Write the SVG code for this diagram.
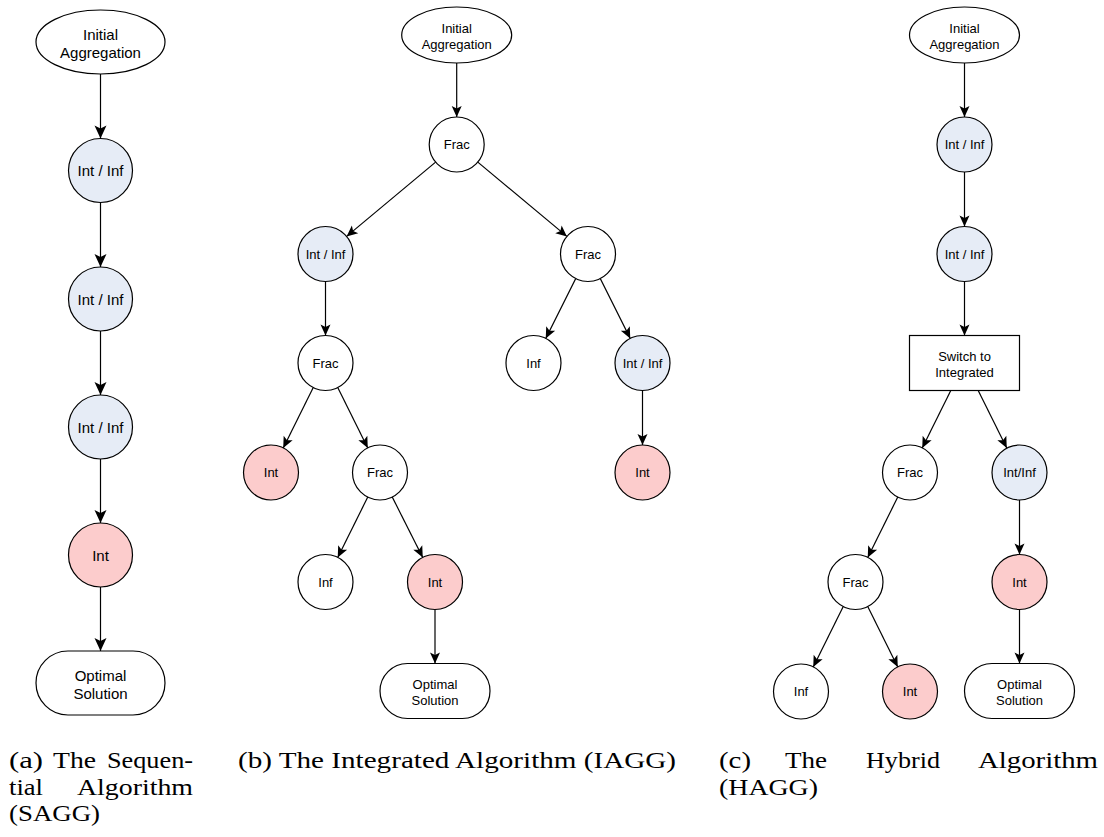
<svg xmlns="http://www.w3.org/2000/svg" width="1104" height="837" viewBox="0 0 1104 837">
<defs>
<marker id="arA" markerUnits="userSpaceOnUse" markerWidth="14" markerHeight="12" refX="13" refY="6" orient="auto" overflow="visible">
<path d="M0,0 L13,6 L0,12 L3,6 Z" fill="#000"/>
</marker>
<marker id="arB" markerUnits="userSpaceOnUse" markerWidth="12" markerHeight="10" refX="11" refY="5" orient="auto" overflow="visible">
<path d="M0,0 L11,5 L0,10 L2.5,5 Z" fill="#000"/>
</marker>
</defs>
<style>
.n{stroke:#000;stroke-width:1.2;fill:#fff}
.blue{fill:#e6ecf6}
.pink{fill:#fccccc}
.e{stroke:#000;stroke-width:1.2;fill:none}
.ea{marker-end:url(#arA)}
.eb{marker-end:url(#arB)}
.ta{font-family:"Liberation Sans",Arial,sans-serif;font-size:15px;text-anchor:middle;fill:#000}
.tb{font-family:"Liberation Sans",Arial,sans-serif;font-size:13px;text-anchor:middle;fill:#000}
.cap{font-family:"Liberation Serif","Times New Roman",serif;font-size:24px;fill:#000}
</style>
<rect width="1104" height="837" fill="#fff"/>

<g id="connectors">
<!-- panel a -->
<line class="e ea" x1="100.5" y1="74" x2="100.5" y2="138.5"/>
<line class="e ea" x1="100.5" y1="202.5" x2="100.5" y2="267"/>
<line class="e ea" x1="100.5" y1="331" x2="100.5" y2="395"/>
<line class="e ea" x1="100.5" y1="459" x2="100.5" y2="523"/>
<line class="e ea" x1="100.5" y1="587" x2="100.5" y2="651"/>
<!-- panel b -->
<line class="e eb" x1="456.7" y1="63" x2="456.7" y2="117"/>
<line class="e eb" x1="435.6" y1="162.1" x2="346.6" y2="236.4"/>
<line class="e eb" x1="477.8" y1="162.1" x2="566.9" y2="236.4"/>
<line class="e eb" x1="325.5" y1="281.5" x2="325.5" y2="335.5"/>
<line class="e eb" x1="575.75" y1="278.6" x2="545.75" y2="338.4"/>
<line class="e eb" x1="600.25" y1="278.6" x2="630.25" y2="338.4"/>
<line class="e eb" x1="313.25" y1="387.6" x2="283.25" y2="447.9"/>
<line class="e eb" x1="337.75" y1="387.6" x2="367.75" y2="447.9"/>
<line class="e eb" x1="642.5" y1="390.5" x2="642.5" y2="445"/>
<line class="e eb" x1="367.75" y1="497.1" x2="337.75" y2="557.4"/>
<line class="e eb" x1="392.25" y1="497.1" x2="422.75" y2="557.4"/>
<line class="e eb" x1="435" y1="609.5" x2="435" y2="663.5"/>
<!-- panel c -->
<line class="e eb" x1="964.5" y1="63" x2="964.5" y2="117"/>
<line class="e eb" x1="964.5" y1="172" x2="964.5" y2="226.5"/>
<line class="e eb" x1="964.5" y1="281.5" x2="964.5" y2="335.5"/>
<line class="e eb" x1="950.8" y1="390.5" x2="922.25" y2="447.9"/>
<line class="e eb" x1="978.2" y1="390.5" x2="1006.75" y2="447.9"/>
<line class="e eb" x1="897.75" y1="497.1" x2="867.75" y2="557.4"/>
<line class="e eb" x1="1019.5" y1="500" x2="1019.5" y2="554.5"/>
<line class="e eb" x1="843.25" y1="606.6" x2="813.25" y2="666.9"/>
<line class="e eb" x1="867.75" y1="606.6" x2="897.75" y2="666.9"/>
<line class="e eb" x1="1019.5" y1="609.5" x2="1019.5" y2="663.5"/>
</g>

<!-- panel a nodes -->
<g id="a-init"><ellipse class="n" cx="100.5" cy="42" rx="64.5" ry="32"/><text class="ta" x="100.5" y="40">Initial</text><text class="ta" x="100.5" y="58">Aggregation</text></g>
<g id="a-ii1"><circle class="n blue" cx="100.5" cy="170.5" r="32"/><text class="ta" x="100.5" y="176">Int / Inf</text></g>
<g id="a-ii2"><circle class="n blue" cx="100.5" cy="299" r="32"/><text class="ta" x="100.5" y="304.5">Int / Inf</text></g>
<g id="a-ii3"><circle class="n blue" cx="100.5" cy="427" r="32"/><text class="ta" x="100.5" y="432.5">Int / Inf</text></g>
<g id="a-int"><circle class="n pink" cx="100.5" cy="555" r="32"/><text class="ta" x="100.5" y="560.5">Int</text></g>
<g id="a-opt"><rect class="n" x="36" y="651" width="129" height="64" rx="32"/><text class="ta" x="100.5" y="681">Optimal</text><text class="ta" x="100.5" y="699">Solution</text></g>

<!-- panel b nodes -->
<g id="b-init"><ellipse class="n" cx="456.7" cy="35" rx="55" ry="28"/><text class="tb" x="456.7" y="32.7">Initial</text><text class="tb" x="456.7" y="48.7">Aggregation</text></g>
<g id="b-frac1"><circle class="n" cx="456.7" cy="144.5" r="27.5"/><text class="tb" x="456.7" y="149.2">Frac</text></g>
<g id="b-ii1"><circle class="n blue" cx="325.5" cy="254" r="27.5"/><text class="tb" x="325.5" y="258.7">Int / Inf</text></g>
<g id="b-frac2"><circle class="n" cx="588" cy="254" r="27.5"/><text class="tb" x="588" y="258.7">Frac</text></g>
<g id="b-frac3"><circle class="n" cx="325.5" cy="363" r="27.5"/><text class="tb" x="325.5" y="367.7">Frac</text></g>
<g id="b-inf1"><circle class="n" cx="533.5" cy="363" r="27.5"/><text class="tb" x="533.5" y="367.7">Inf</text></g>
<g id="b-ii2"><circle class="n blue" cx="642.5" cy="363" r="27.5"/><text class="tb" x="642.5" y="367.7">Int / Inf</text></g>
<g id="b-int1"><circle class="n pink" cx="271" cy="472.5" r="27.5"/><text class="tb" x="271" y="477.2">Int</text></g>
<g id="b-frac4"><circle class="n" cx="380" cy="472.5" r="27.5"/><text class="tb" x="380" y="477.2">Frac</text></g>
<g id="b-int2"><circle class="n pink" cx="642.5" cy="472.5" r="27.5"/><text class="tb" x="642.5" y="477.2">Int</text></g>
<g id="b-inf2"><circle class="n" cx="325.5" cy="582" r="27.5"/><text class="tb" x="325.5" y="586.7">Inf</text></g>
<g id="b-int3"><circle class="n pink" cx="435" cy="582" r="27.5"/><text class="tb" x="435" y="586.7">Int</text></g>
<g id="b-opt"><rect class="n" x="380" y="663.5" width="110" height="55" rx="27.5"/><text class="tb" x="435" y="689">Optimal</text><text class="tb" x="435" y="705">Solution</text></g>

<!-- panel c nodes -->
<g id="c-init"><ellipse class="n" cx="964.5" cy="35" rx="55" ry="28"/><text class="tb" x="964.5" y="32.7">Initial</text><text class="tb" x="964.5" y="48.7">Aggregation</text></g>
<g id="c-ii1"><circle class="n blue" cx="964.5" cy="144.5" r="27.5"/><text class="tb" x="964.5" y="149.2">Int / Inf</text></g>
<g id="c-ii2"><circle class="n blue" cx="964.5" cy="254" r="27.5"/><text class="tb" x="964.5" y="258.7">Int / Inf</text></g>
<g id="c-switch"><rect class="n" x="909.5" y="335.5" width="110" height="55"/><text class="tb" x="964.5" y="361">Switch to</text><text class="tb" x="964.5" y="377">Integrated</text></g>
<g id="c-frac1"><circle class="n" cx="910" cy="472.5" r="27.5"/><text class="tb" x="910" y="477.2">Frac</text></g>
<g id="c-ii3"><circle class="n blue" cx="1019.5" cy="472.5" r="27.5"/><text class="tb" x="1019.5" y="477.2">Int/Inf</text></g>
<g id="c-frac2"><circle class="n" cx="855.5" cy="582" r="27.5"/><text class="tb" x="855.5" y="586.7">Frac</text></g>
<g id="c-int1"><circle class="n pink" cx="1019.5" cy="582" r="27.5"/><text class="tb" x="1019.5" y="586.7">Int</text></g>
<g id="c-inf"><circle class="n" cx="801" cy="691.5" r="27.5"/><text class="tb" x="801" y="696.2">Inf</text></g>
<g id="c-int2"><circle class="n pink" cx="910" cy="691.5" r="27.5"/><text class="tb" x="910" y="696.2">Int</text></g>
<g id="c-opt"><rect class="n" x="964.5" y="663.5" width="110" height="55" rx="27.5"/><text class="tb" x="1019.5" y="689">Optimal</text><text class="tb" x="1019.5" y="705">Solution</text></g>

<!-- captions -->
<g id="captions">
<text class="cap" x="9" y="768" textLength="34" lengthAdjust="spacingAndGlyphs">(a)</text>
<text class="cap" x="53" y="768" textLength="43" lengthAdjust="spacingAndGlyphs">The</text>
<text class="cap" x="107" y="768" textLength="86" lengthAdjust="spacingAndGlyphs">Sequen-</text>
<text class="cap" x="9" y="794.5" textLength="34" lengthAdjust="spacingAndGlyphs">tial</text>
<text class="cap" x="77" y="794.5" textLength="116" lengthAdjust="spacingAndGlyphs">Algorithm</text>
<text class="cap" x="9" y="821" textLength="91" lengthAdjust="spacingAndGlyphs">(SAGG)</text>
<text class="cap" x="238" y="768" textLength="438" lengthAdjust="spacingAndGlyphs">(b) The Integrated Algorithm (IAGG)</text>
<text class="cap" x="719" y="768" textLength="32" lengthAdjust="spacingAndGlyphs">(c)</text>
<text class="cap" x="785" y="768" textLength="42" lengthAdjust="spacingAndGlyphs">The</text>
<text class="cap" x="866" y="768" textLength="74" lengthAdjust="spacingAndGlyphs">Hybrid</text>
<text class="cap" x="978" y="768" textLength="120" lengthAdjust="spacingAndGlyphs">Algorithm</text>
<text class="cap" x="719" y="795" textLength="99" lengthAdjust="spacingAndGlyphs">(HAGG)</text>
</g>
</svg>
